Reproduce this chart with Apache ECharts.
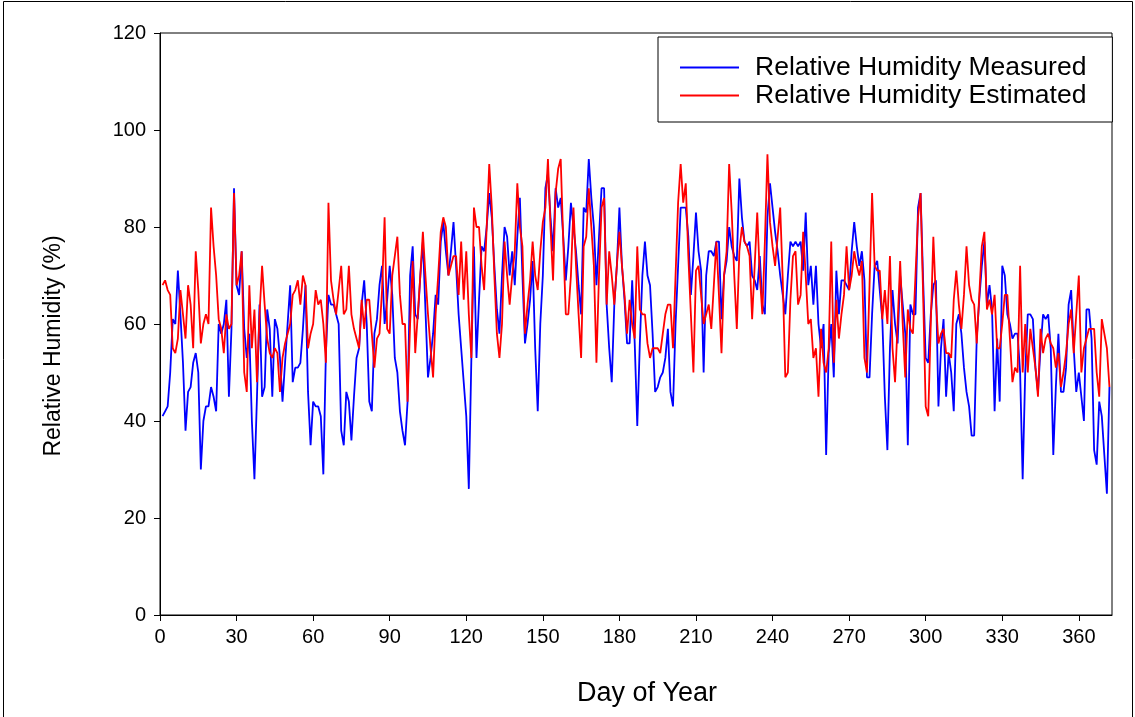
<!DOCTYPE html>
<html>
<head>
<meta charset="utf-8">
<script src="https://cdn.jsdelivr.net/npm/echarts@6/dist/echarts.min.js"></script>
<style>
html,body{margin:0;padding:0;background:#fff;}
#chart{width:1135px;height:717px;}
</style>
</head>
<body>
<div id="chart"></div>
<script>
// Day of year (1..372) and values
const days = Array.from({length: 372}, (_, i) => i + 1);
const xTicks = [0, 30, 60, 90, 120, 150, 180, 210, 240, 270, 300, 330, 360];
const yTicks = [0, 20, 40, 60, 80, 100, 120];
const seriesNames = ['Relative Humidity Measured', 'Relative Humidity Estimated'];

const measured = [
41,42,43,50,61,60,71,62,52,38,
46,47,52,54,50,30,40,43,43,47,
45,42,60,58,60,65,45,59,88,68,
66,75,59,53,58,40,28,45,64,45,
47,63,59,45,61,59,53,44,52,60,
68,48,51,51,52,59,68,46,35,44,
43,43,41,29,54,66,64,64,62,60,
38,35,46,44,36,45,53,55,64,69,
60,44,42,58,61,68,72,60,65,72,
66,53,50,42,38,35,44,70,76,62,
61,70,77,63,49,53,58,66,64,77,
81,75,70,75,81,72,62,55,48,41,
26,53,76,53,65,76,75,80,87,82,
72,63,58,70,80,78,70,75,68,78,
86,70,56,60,65,73,55,42,60,70,
88,91,82,75,88,84,86,78,69,76,
85,80,75,68,62,84,83,94,86,80,
68,78,88,88,64,55,48,64,72,84,
72,65,56,56,69,56,39,56,70,77,
70,68,58,46,47,49,50,53,59,46,
43,60,72,84,84,84,78,66,74,83,
75,71,50,70,75,75,74,77,77,61,
70,73,80,76,74,73,90,82,77,76,
77,70,69,67,74,64,62,82,89,84,
79,75,70,66,62,70,77,76,77,76,
77,71,83,68,72,64,72,60,55,60,
33,54,60,49,71,62,69,69,68,67,
75,81,76,72,75,69,49,49,62,72,
73,67,61,45,34,55,67,60,56,70,
64,58,35,64,62,62,84,87,69,53,
52,62,68,69,43,55,61,45,54,50,
42,60,62,58,51,46,43,37,37,57,
65,72,77,64,68,63,42,57,44,72,
70,62,60,57,58,58,50,28,50,62,
62,61,51,46,55,62,61,62,55,33,
47,58,46,46,51,64,67,55,46,50,
45,40,63,63,57,34,31,44,41,33,
25,47
];

const estimated = [
68,69,67,66,55,54,57,67,62,57,
68,64,55,75,67,56,60,62,60,84,
76,70,61,59,54,62,59,60,87,68,
70,75,50,46,68,55,63,48,62,72,
64,57,54,53,55,54,46,53,56,58,
60,66,67,69,64,70,68,55,58,60,
67,64,65,60,52,85,69,65,62,67,
72,62,63,72,62,59,57,55,65,59,
65,65,58,51,57,58,67,82,59,58,
70,74,78,66,60,60,44,60,73,54,
62,70,79,70,62,55,49,62,70,79,
82,80,70,72,74,74,66,77,65,75,
62,53,84,80,80,72,67,80,93,84,
70,58,53,60,77,70,64,70,75,89,
80,76,58,64,69,77,70,67,75,81,
84,94,80,69,87,92,94,77,62,62,
70,84,72,62,53,76,78,88,80,72,
52,70,84,86,64,75,70,64,72,79,
72,66,58,65,60,57,76,63,62,62,
56,53,55,55,55,54,58,62,64,64,
55,70,85,93,85,89,74,62,50,71,
72,66,60,62,64,59,68,77,66,54,
70,75,93,83,70,59,75,80,77,76,
74,61,72,83,70,62,77,95,81,76,
72,78,84,69,49,50,65,74,75,64,
66,79,70,60,61,53,55,45,59,52,
50,55,77,52,65,57,62,66,76,67,
70,75,72,70,73,53,50,68,87,72,
71,71,61,67,60,74,55,48,60,73,
60,49,63,59,58,70,82,87,66,43,
41,60,78,65,56,58,59,54,54,53,
65,71,64,59,66,76,68,65,64,56,
66,76,79,63,65,62,66,55,55,60,
66,66,57,48,51,50,72,50,60,50,
59,55,51,45,59,54,57,58,56,55,
51,54,47,50,54,60,63,54,62,70,
50,55,57,59,59,59,50,45,61,58,
55,47
];

const FONT = '"Liberation Sans", Arial, sans-serif';
const chart = echarts.init(document.getElementById('chart'), null, {renderer: 'canvas'});

chart.setOption({
  animation: false,
  backgroundColor: '#fff',
  textStyle: {fontFamily: FONT},
  grid: {
    left: 160, right: 23, top: 33, bottom: 102,
    show: true, borderColor: '#000', borderWidth: 1, backgroundColor: 'transparent'
  },
  legend: {
    orient: 'vertical',
    left: 658, top: 37,
    padding: [17, 26, 13, 22],
    itemGap: 1,
    itemWidth: 59,
    itemHeight: 2,
    icon: 'rect',
    backgroundColor: '#fff',
    borderColor: '#000',
    borderWidth: 1,
    textStyle: {fontFamily: FONT, fontSize: 26.5, color: '#000', padding: [0, 0, 0, 11]},
    data: seriesNames
  },
  xAxis: {
    type: 'value',
    min: xTicks[0], max: 373, interval: 30,
    name: 'Day of Year',
    nameLocation: 'middle',
    nameGap: 65,
    nameTextStyle: {fontFamily: FONT, fontSize: 27, color: '#000', padding: [0, 0, 0, 22]},
    axisLine: {show: true, lineStyle: {color: '#000', width: 1}},
    axisTick: {show: true, inside: false, length: 6, lineStyle: {color: '#000'}},
    axisLabel: {
      fontFamily: FONT, fontSize: 20, color: '#000', margin: 12,
      showMaxLabel: false,
      formatter: v => (xTicks.indexOf(v) >= 0 ? String(v) : '')
    },
    splitLine: {show: false}
  },
  yAxis: {
    type: 'value',
    min: yTicks[0], max: yTicks[yTicks.length - 1], interval: 20,
    name: 'Relative Humidity (%)',
    nameLocation: 'middle',
    nameGap: 95,
    nameTextStyle: {fontFamily: FONT, fontSize: 23, color: '#000', padding: [0, 44, 0, 0]},
    axisLine: {show: true, lineStyle: {color: '#000', width: 1}},
    axisTick: {show: true, inside: false, length: 6, lineStyle: {color: '#000'}},
    axisLabel: {fontFamily: FONT, fontSize: 20, color: '#000', margin: 14},
    splitLine: {show: false}
  },
  series: [
    {
      name: seriesNames[0],
      type: 'line',
      data: days.map((d, i) => [d, measured[i]]),
      showSymbol: false,
      symbol: 'none',
      lineStyle: {color: '#0000ff', width: 1.8},
      itemStyle: {color: '#0000ff'}
    },
    {
      name: seriesNames[1],
      type: 'line',
      data: days.map((d, i) => [d, estimated[i]]),
      showSymbol: false,
      symbol: 'none',
      lineStyle: {color: '#ff0000', width: 1.8},
      itemStyle: {color: '#ff0000'}
    }
  ],
  graphic: [
    {
      type: 'rect', silent: true, z: 100,
      shape: {x: 3.5, y: 1.5, width: 1129, height: 730},
      style: {fill: 'none', stroke: '#000', lineWidth: 1}
    }
  ]
});
</script>
</body>
</html>
